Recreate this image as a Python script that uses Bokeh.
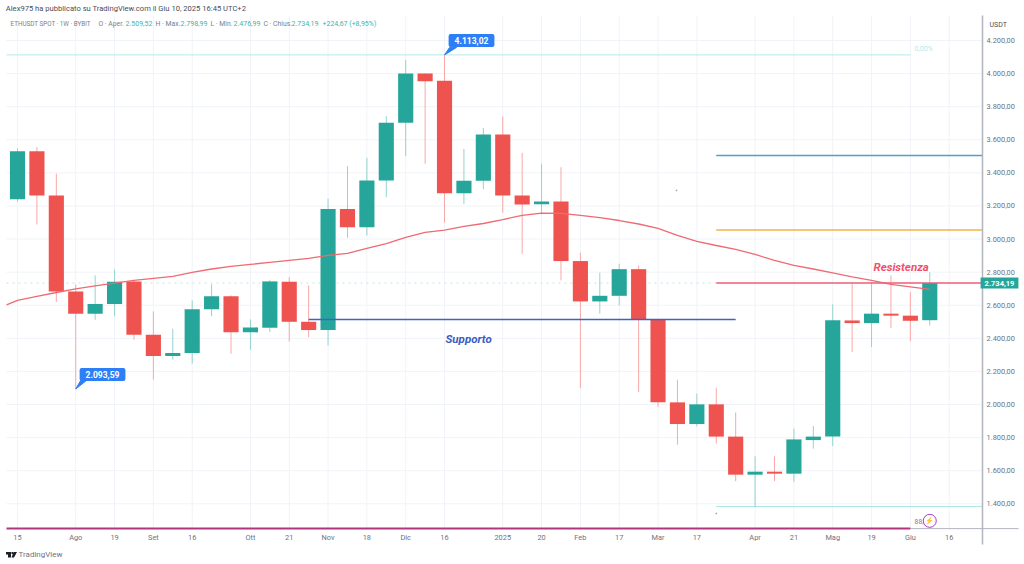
from bokeh.plotting import figure
from bokeh.models import Label, PolyAnnotation, FixedTicker
from bokeh.embed import file_html
from bokeh.resources import INLINE

opens  = [3241,3531,3263,2683,2549,2607,2744,2422,2293,2311,2576,2655,2436,2464,2742,2500,2450,3181,3072,3354,3703,4001,3956,3277,3352,3632,3263,3211,3227,2867,2623,2657,2818,2512,2013,1882,2001,1806,1576,1594,1582,1785,1806,2508,2492,2549,2537,2509.52]
highs  = [3547,3555,3395,2726,2780,2816,2750,2563,2458,2629,2726,2660,2514,2754,2770,2720,3244,3441,3491,3743,4083,4003,4113.02,3545,3672,3741,3521,3455,3434,2917,2797,2851,2841,2512,2150,2066,2102,1952,1687,1687,1854,1870,2605,2732,2740,2780,2679,2798.99]
lows   = [3227,3088,2619,2093.59,2512,2534,2392,2150,2271,2247,2534,2307,2331,2438,2381,2407,2357,3008,3022,3253,3501,3455,3099,3213,3302,3159,2911,3149,2750,2099,2549,2599,2075,1985,1757,1868,1763,1537,1380,1537,1534,1733,1749,2317,2347,2462,2383,2476.99]
closes = [3531,3263,2683,2549,2607,2742,2422,2293,2311,2576,2655,2436,2466,2744,2500,2450,3181,3072,3354,3703,4001,3954,3277,3352,3632,3263,3209,3227,2867,2623,2657,2818,2512,2013,1882,2001,1806,1576,1594,1582,1789,1806,2510,2492,2549,2537,2506,2734.19]

ema_idx = [-0.567]+list(range(48))
ema_val = [2602,2629,2653,2677,2699,2717,2734,2750,2762,2774,2798,2819,2835,2847,2859,2871,2883,2901,2913,2943,2973,3010,3040,3054,3076,3094,3118,3143,3157,3155,3143,3129,3112,3091,3064,3022,2986,2961,2937,2907,2871,2841,2819,2795,2771,2750,2726,2711,2696]

y_ticks = [1400,1600,1800,2000,2200,2400,2600,2800,3000,3200,3400,3600,3800,4000,4200]
y_labels = ["1.400,00","1.600,00","1.800,00","2.000,00","2.200,00","2.400,00","2.600,00","2.800,00","3.000,00","3.200,00","3.400,00","3.600,00","3.800,00","4.000,00","4.200,00"]
x_ticks = [0,3,5,7,9,12,14,16,18,20,22,25,27,29,31,33,35,38,40,42,44,46,48]
x_labels = ["15","Ago","19","Set","16","Ott","21","Nov","18","Dic","16","2025","20","Feb","17","Mar","17","Apr","21","Mag","19","Giu","16"]

fib_top, fib_blue, fib_orange, resistance, support, fib_low, fib_base = 4113.02, 3505, 3054, 2734.19, 2514, 1383, 1250

UP, DOWN = "#26a69a", "#ef5350"
UPW, DOWNW = "#93d3cc", "#f7a9a7"
X0, X1, XEND = -0.567, 49.72, 51.57
YBOT, YTOP, YAXBOT = 1244.6, 4351.1, 1154
FONT = "Roboto"

p = figure(width=1024, height=564, x_range=(-0.876, 51.88), y_range=(1033.1, 4441.7),
           output_backend="svg", toolbar_location=None, y_axis_location="right",
           min_border_left=0, min_border_right=0, min_border_top=0, min_border_bottom=0,
           background_fill_color="white", border_fill_color="white")
p.outline_line_color = None
p.xgrid.visible = False
p.ygrid.visible = False

# axes sit inside the full-canvas frame so that every outer text stays visible
ya = p.yaxis[0]
ya.fixed_location = X1
ya.bounds = (YAXBOT, YTOP)
ya.ticker = FixedTicker(ticks=y_ticks)
ya.major_label_overrides = dict(zip(y_ticks, y_labels))
xa = p.xaxis[0]
xa.fixed_location = fib_base
xa.ticker = FixedTicker(ticks=x_ticks)
xa.major_label_overrides = dict(zip(x_ticks, x_labels))
for a in (xa, ya):
    a.major_tick_line_color = None
    a.minor_tick_line_color = None
    a.major_tick_in = 0
    a.major_tick_out = 0
    a.minor_tick_in = 0
    a.minor_tick_out = 0
    a.major_label_text_font = FONT
    a.major_label_text_font_size = "7.4px"
    a.major_label_text_color = "#6f7280"
    a.major_label_standoff = 4
xa.axis_line_color = None
ya.axis_line_color = "#b2b5be"
ya.axis_line_width = 1.5

# grid, limited to the price pane
GRID = "#f0f3f8"
p.segment(x_ticks, [YBOT]*len(x_ticks), x_ticks, [YTOP]*len(x_ticks), color=GRID, line_width=1)
p.segment([X0]*len(y_ticks), y_ticks, [X1]*len(y_ticks), y_ticks, color=GRID, line_width=1)

idx = list(range(len(opens)))
up = [c >= o for o, c in zip(opens, closes)]
wcol = [UPW if u else DOWNW for u in up]
bcol = [UP if u else DOWN for u in up]

# level lines
p.line([X0, 46], [fib_top, fib_top], color="#b6e8ec", line_width=1)
p.line([X0, 36], [resistance, resistance], color="#bfe6df", line_width=1, line_dash="dotted")
p.line([36, X1], [fib_blue, fib_blue], color="#4f9fd0", line_width=1.5)
p.line([36, X1], [fib_orange, fib_orange], color="#f5b04c", line_width=1.5)
p.line([36, X1], [fib_low, fib_low], color="#a6e6df", line_width=1)
p.line([46, XEND], [fib_base, fib_base], color="#b2b5be", line_width=1)
p.line([X0, 46], [fib_base, fib_base], color="#b0357f", line_width=2)

p.segment(idx, lows, idx, highs, color=wcol, line_width=1)
p.vbar(idx, 0.78, [min(o, c) for o, c in zip(opens, closes)], [max(o, c) for o, c in zip(opens, closes)],
       fill_color=bcol, line_color=None)
p.line(ema_idx, ema_val, color="#ef6a72", line_width=1.3)

p.line([36, X1], [resistance, resistance], color="#ee5c78", line_width=1.5)
p.line([15, 37], [support, support], color="#3f62c8", line_width=1.5)

# stray dots
p.scatter([33.95, 36], [3294, 1342], size=1, color="#a8a8a8")

# callout tails
BLUE = "#2e7ff6"
p.patch([22, 22.26, 22.62], [4113.02, 4158, 4158], fill_color=BLUE, line_color=BLUE, line_width=1)
p.patch([3, 3.25, 3.55], [2093.59, 2145, 2145], fill_color=BLUE, line_color=BLUE, line_width=1)

def sx(x): return x
def sy(y): return 564 - y

def txt(x, y, s, color, size="7px", style="normal", align="left", font=FONT, **kw):
    lab = Label(x=sx(x), y=sy(y), x_units="screen", y_units="screen", text=s, text_color=color,
                text_font=font, text_font_size=size, text_font_style=style, text_align=align,
                text_baseline="middle", **kw)
    p.add_layout(lab)

for (xd, yd, s) in [(23.39, 4200, "4.113,02"), (4.38, 2181, "2.093,59")]:
    p.add_layout(Label(x=xd, y=yd, text=s, text_color="white", text_font=FONT, text_font_size="8.5px",
                       text_font_style="bold", text_align="center", text_baseline="middle",
                       background_fill_color=BLUE, padding=dict(x=6, y=3), border_radius=2))

txt(5.3, 8, "Alex975 ha pubblicato su TradingView.com il Giu 10, 2025 16:45 UTC+2", "#4a4d57", size="7.6px")
G = "#3fb3a7"; K = "#7b7e8a"
txt(10, 23, "ETHUSDT SPOT · 1W · BYBIT", K, size="6.3px")
txt(98, 23, "O · Aper.", K, size="6.8px"); txt(125, 23, "2.509,52", G)
txt(155, 23, "H · Max.", K, size="6.8px"); txt(180, 23, "2.798,99", G)
txt(210, 23, "L · Min.", K, size="6.8px"); txt(233, 23, "2.476,99", G)
txt(263, 23, "C · Chius.", K, size="6.8px"); txt(291, 23, "2.734,19", G)
txt(322, 23, "+224,67 (+8,95%)", G)
txt(989, 24, "USDT", "#4a4d57")
txt(914, 48, "0,00%", "#b6e8ec")
txt(873, 266, "Resistenza", "#f0506e", size="11.5px", style="bold italic")
txt(445, 338, "Supporto", "#3b5bc4", size="11.5px", style="bold italic")
txt(914, 521, "88,", "#d653a6")
txt(18, 554, "TradingView", "#6f7280", size="8px")

# last price tag
p.add_layout(Label(x=sx(999), y=resistance, x_units="screen", y_units="data", text="2.734,19", text_color="white",
                   text_font=FONT, text_font_size="7.5px", text_font_style="bold", text_align="center",
                   text_baseline="middle", background_fill_color=UP, padding=dict(x=4, y=3)))

# badge
p.scatter([47], [1297], size=13, fill_color="white", line_color="#a63bc4", line_width=1)
p.text([47], [1297], ["⚡"], text_font_size="7px", text_align="center", text_baseline="middle", text_color="#a63bc4",
       text_font="DejaVu Sans")

# logo
def poly(pts, color):
    p.add_layout(PolyAnnotation(xs=[sx(a) for a, _ in pts], ys=[sy(b) for _, b in pts], xs_units="screen", ys_units="screen",
                                fill_color=color, fill_alpha=1, line_color=None))
poly([(5.5, 551.5), (10.5, 551.5), (10.5, 557), (7.5, 557), (7.5, 554), (5.5, 554)], "#1c1f26")
poly([(11, 551.5), (12.5, 551.5), (12.5, 553.5), (11, 553.5)], "#1c1f26")
poly([(13, 551.5), (16.5, 551.5), (13.5, 557), (11, 557)], "#1c1f26")

open("out.html", "w").write(file_html(p, INLINE))
